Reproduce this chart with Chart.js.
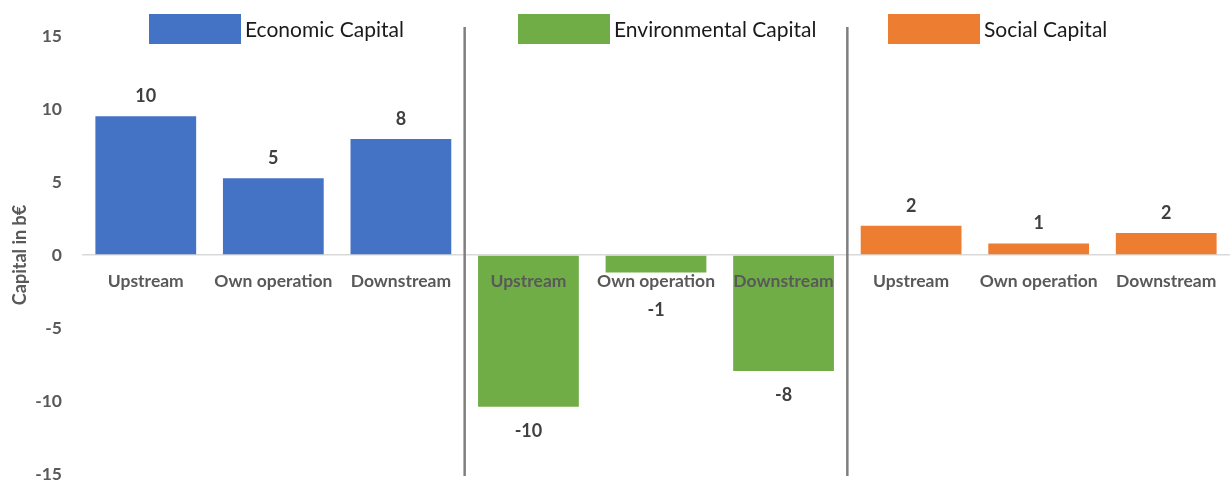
<!DOCTYPE html>
<html>
<head>
<meta charset="utf-8">
<script src="https://cdn.jsdelivr.net/npm/chart.js@4"></script>
<style>
html,body{margin:0;padding:0;background:#fff;overflow:hidden;}
canvas{display:block;}
</style>
</head>
<body>
<canvas id="c" width="1232" height="483" style="width:1232px;height:483px;"></canvas>
<script>
const categories = ["Upstream", "Own operation", "Downstream"];
const groups = ["Economic Capital", "Environmental Capital", "Social Capital"];
const economic = [9.5, 5.25, 7.95];
const environmental = [-10.4, -1.2, -7.95];
const social = [2.0, 0.78, 1.5];
const groupColors = ["#4472C4", "#70AD47", "#ED7D31"];
const yTicks = [-15, -10, -5, 0, 5, 10, 15];
const yTitle = "Capital in b€";

const labels = [];
const values = [];
const colors = [];
[economic, environmental, social].forEach((arr, g) => {
  arr.forEach((v, i) => {
    labels.push(categories[i]);
    values.push(v);
    colors.push(groupColors[g]);
  });
});

const FONT = "Lato, 'Open Sans', sans-serif";

const overlay = {
  id: 'overlay',
  afterDatasetsDraw(chart) {
    const ctx = chart.ctx;
    const x = chart.scales.x, y = chart.scales.y;
    const area = chart.chartArea;
    const y0 = y.getPixelForValue(0);
    ctx.save();
    // separators
    ctx.strokeStyle = '#7f7f7f';
    ctx.lineWidth = 2.5;
    [3, 6].forEach(k => {
      const px = (x.getPixelForValue(k - 1) + x.getPixelForValue(k)) / 2;
      ctx.beginPath();
      ctx.moveTo(px, area.top - 9);
      ctx.lineTo(px, area.bottom + 2);
      ctx.stroke();
    });
    // category labels
    ctx.fillStyle = '#595959';
    ctx.font = "bold 17.5px " + FONT;
    ctx.textAlign = 'center';
    ctx.textBaseline = 'middle';
    labels.forEach((l, i) => {
      ctx.fillText(l, x.getPixelForValue(i), y0 + 26);
    });
    // data labels
    const meta = chart.getDatasetMeta(0);
    ctx.fillStyle = '#404040';
    ctx.font = "bold 18px " + FONT;
    meta.data.forEach((bar, i) => {
      const v = values[i];
      const txt = String(Math.round(v));
      const py = v >= 0 ? bar.y - 20 : Math.max(bar.y + 24, y0 + 55);
      ctx.fillText(txt, bar.x, py);
    });
    // y title
    ctx.save();
    ctx.translate(20, (area.top + area.bottom) / 2);
    ctx.rotate(-Math.PI / 2);
    ctx.fillStyle = '#595959';
    ctx.font = "bold 18px " + FONT;
    ctx.fillText(yTitle, 0, 0);
    ctx.restore();
    // legend
    const legendX = [149, 518, 888];
    ctx.font = "21px " + FONT;
    ctx.textAlign = 'left';
    groups.forEach((g, i) => {
      ctx.fillStyle = groupColors[i];
      ctx.fillRect(legendX[i], 14, 92, 30);
      ctx.fillStyle = '#1a1a1a';
      ctx.fillText(g, legendX[i] + 96, 30);
    });
    ctx.restore();
  }
};

new Chart(document.getElementById('c'), {
  type: 'bar',
  data: {
    labels: labels,
    datasets: [{
      data: values,
      backgroundColor: colors,
      borderWidth: 0,
      categoryPercentage: 1.0,
      barPercentage: 0.79
    }]
  },
  options: {
    responsive: false,
    animation: false,
    layout: { padding: { top: 36, bottom: 9, right: 2, left: 0 } },
    plugins: { legend: { display: false }, tooltip: { enabled: false } },
    scales: {
      x: {
        display: true,
        ticks: { display: false },
        grid: { display: false, drawTicks: false },
        border: { display: false },
        afterFit(scale) { scale.height = 0; }
      },
      y: {
        min: -15, max: 15,
        afterFit(scale) { scale.width = 82; },
        afterBuildTicks(scale) { scale.ticks = yTicks.map(v => ({ value: v })); },
        ticks: {
          color: '#595959',
          font: { family: FONT, size: 17.5, weight: 'bold', lineHeight: 1.0 },
          padding: 0
        },
        border: { display: false },
        grid: {
          drawTicks: true,
          tickLength: 20,
          tickColor: 'rgba(0,0,0,0)',
          color: ctx => (ctx.tick && ctx.tick.value === 0) ? '#d9d9d9' : 'rgba(0,0,0,0)',
          lineWidth: 1.5
        }
      }
    }
  },
  plugins: [overlay]
});
</script>
</body>
</html>
